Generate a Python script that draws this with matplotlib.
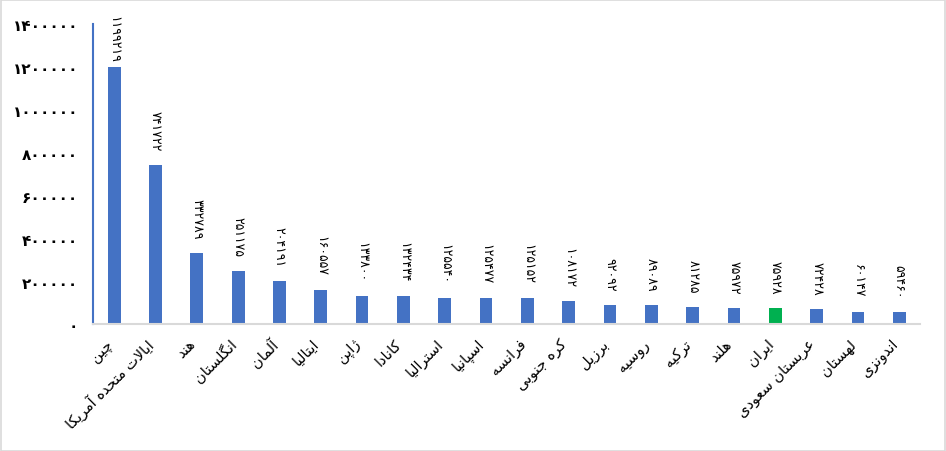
import matplotlib
matplotlib.use('Agg')
import matplotlib.pyplot as plt
import matplotlib.transforms as mtransforms
from matplotlib.patches import Rectangle

countries = ['چین', 'ایالات متحده آمریکا', 'هند', 'انگلستان', 'آلمان', 'ایتالیا', 'ژاپن',
             'کانادا', 'استرالیا', 'اسپانیا', 'فرانسه', 'کره جنوبی', 'برزیل', 'روسیه',
             'ترکیه', 'هلند', 'ایران', 'عربستان سعودی', 'لهستان', 'اندونزی']
values = [1199219, 741722, 332789, 251175, 204191, 160557, 133800, 132434, 125540, 125477,
          125152, 108172, 92092, 89089, 81285, 75972, 75928, 72428, 60147, 59460]
yticks = [0, 200000, 400000, 600000, 800000, 1000000, 1200000, 1400000]
highlight = 'ایران'

# presentation forms: isolated, final, initial, medial (None -> no joining to the left)
FORMS = {
    'ا': ('\uFE8D', '\uFE8E', None, None),
    'آ': ('\uFE81', '\uFE82', None, None),
    'ب': ('\uFE8F', '\uFE90', '\uFE91', '\uFE92'),
    'پ': ('\uFB56', '\uFB57', '\uFB58', '\uFB59'),
    'ت': ('\uFE95', '\uFE96', '\uFE97', '\uFE98'),
    'ج': ('\uFE9D', '\uFE9E', '\uFE9F', '\uFEA0'),
    'چ': ('\uFB7A', '\uFB7B', '\uFB7C', '\uFB7D'),
    'ح': ('\uFEA1', '\uFEA2', '\uFEA3', '\uFEA4'),
    'د': ('\uFEA9', '\uFEAA', None, None),
    'ر': ('\uFEAD', '\uFEAE', None, None),
    'ز': ('\uFEAF', '\uFEB0', None, None),
    'ژ': ('\uFB8A', '\uFB8B', None, None),
    'س': ('\uFEB1', '\uFEB2', '\uFEB3', '\uFEB4'),
    'ع': ('\uFEC9', '\uFECA', '\uFECB', '\uFECC'),
    'ف': ('\uFED1', '\uFED2', '\uFED3', '\uFED4'),
    'ک': ('\uFB8E', '\uFB8F', '\uFB90', '\uFB91'),
    'گ': ('\uFB92', '\uFB93', '\uFB94', '\uFB95'),
    'ل': ('\uFEDD', '\uFEDE', '\uFEDF', '\uFEE0'),
    'م': ('\uFEE1', '\uFEE2', '\uFEE3', '\uFEE4'),
    'ن': ('\uFEE5', '\uFEE6', '\uFEE7', '\uFEE8'),
    'ه': ('\uFEE9', '\uFEEA', '\uFEEB', '\uFEEC'),
    'و': ('\uFEED', '\uFEEE', None, None),
    'ی': ('\uFBFC', '\uFBFD', '\uFBFE', '\uFBFF'),
}
LAMALEF = {'ا': ('\uFEFB', '\uFEFC'), 'آ': ('\uFEF5', '\uFEF6')}


def shape(text):
    # matplotlib 3.10 has no arabic shaping, do it by hand and reverse for RTL
    out = []
    i = 0
    n = len(text)
    while i < n:
        c = text[i]
        prev = text[i - 1] if i > 0 else ''
        join_prev = prev in FORMS and FORMS[prev][2] is not None
        if c not in FORMS:
            out.append(c)
            i += 1
            continue
        if c == 'ل' and i + 1 < n and text[i + 1] in LAMALEF:
            out.append(LAMALEF[text[i + 1]][1 if join_prev else 0])
            i += 2
            continue
        nxt = text[i + 1] if i + 1 < n else ''
        join_next = FORMS[c][2] is not None and nxt in FORMS
        iso, fin, ini, med = FORMS[c]
        if join_prev and join_next:
            out.append(med)
        elif join_prev:
            out.append(fin)
        elif join_next:
            out.append(ini)
        else:
            out.append(iso)
        i += 1
    return ''.join(out)[::-1]


fa_digits = str.maketrans('0123456789', '۰۱۲۳۴۵۶۷۸۹')


def fa(num):
    return str(num).translate(fa_digits)


plt.rcParams['font.family'] = ['DejaVu Sans']

fig = plt.figure(figsize=(9.46, 4.52), dpi=100)
ax = fig.add_axes([0.0988, 0.2799, 0.8737, 0.6648])

x = list(range(len(countries)))
colors = ['#00B050' if c == highlight else '#4472C4' for c in countries]
ax.bar(x, values, width=0.31, color=colors)

ax.set_xlim(-0.5, len(countries) - 0.5)
ax.set_ylim(0, 1400000)
ax.set_yticks(yticks)
ax.set_yticklabels([fa(v) for v in yticks], fontsize=11, fontweight='bold')
ax.set_xticks(x)
ax.set_xticklabels([shape(c) for c in countries], rotation=45, ha='right', va='center',
                   rotation_mode='anchor', fontsize=10.5)
ax.tick_params(axis='y', length=0, pad=11)
ax.tick_params(axis='x', length=0, pad=12)

# nudge the slanted names a little to the left
shift = mtransforms.ScaledTranslation(-3 / 72, 0, fig.dpi_scale_trans)
for lab in ax.get_xticklabels():
    lab.set_transform(lab.get_transform() + shift)

for s in ['top', 'right']:
    ax.spines[s].set_visible(False)
ax.spines['bottom'].set_color('#D9D9D9')
ax.spines['bottom'].set_linewidth(1.5)
ax.spines['left'].set_color('#4472C4')
ax.spines['left'].set_linewidth(1.5)

# value labels, read top to bottom
for i, v in enumerate(values):
    off = 3.5 if i == 0 else 10.5
    ax.annotate(fa(v), (i, v), xytext=(0, off), textcoords='offset points',
                rotation=-90, ha='center', va='bottom', fontsize=9)

fig.add_artist(Rectangle((0.0006, 0.001), 0.9985, 0.997, transform=fig.transFigure,
                         fill=False, edgecolor='#D9D9D9', linewidth=1.2))

fig.savefig('out.png', dpi=100)
